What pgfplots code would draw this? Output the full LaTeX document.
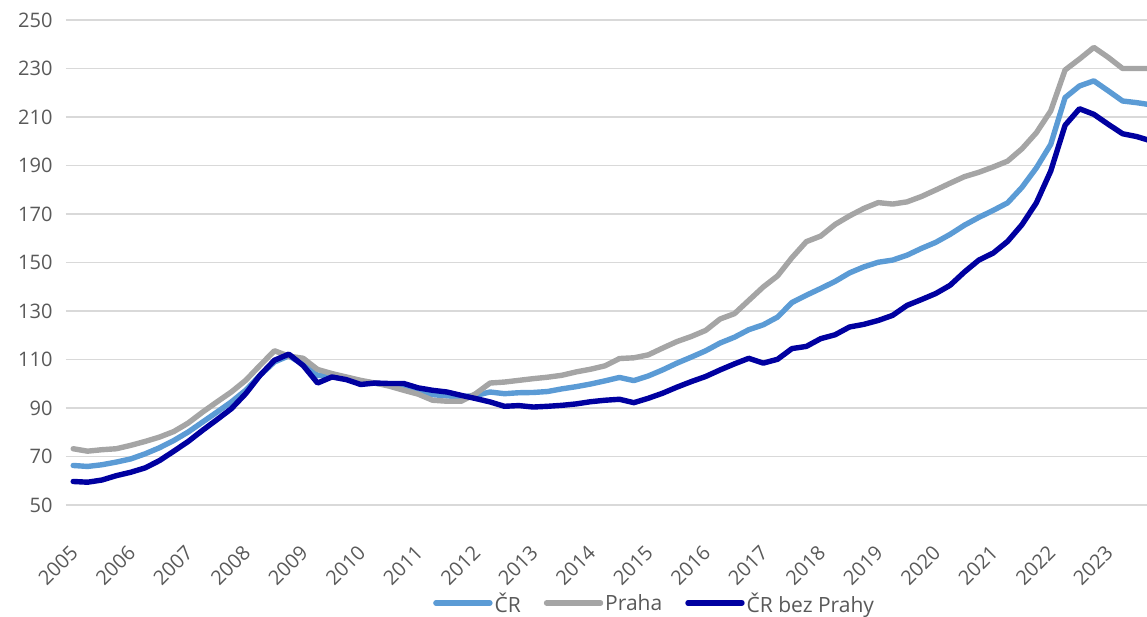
\documentclass[border=0pt]{standalone}
\usepackage{pgfplots}
\pgfplotsset{compat=1.18}
\usepackage{fontspec}
\setmainfont{Open Sans}
\definecolor{cr}{HTML}{5B9BD5}
\definecolor{praha}{HTML}{A5A5A5}
\definecolor{bez}{RGB}{0,0,160}
\definecolor{txt}{HTML}{595959}
\definecolor{gridc}{HTML}{D9D9D9}
\newcommand{\lblfont}{\fontsize{20}{24}\selectfont}
\newcommand{\legfont}{\fontsize{21}{25}\selectfont}
\begin{document}
\begin{tikzpicture}[x=1pt,y=1pt]
\path[use as bounding box] (-66,-111) rectangle (1081,505);
\begin{axis}[
  at={(0,0)}, anchor=south west,
  scale only axis, width=1081pt, height=485pt,
  xmin=-0.5, xmax=74.7, ymin=50, ymax=250,
  axis line style={draw=none}, major tick length=0pt,
  ymajorgrids, grid style={gridc, line width=1.6pt},
  ytick={50,70,...,250},
  xtick={0,4,...,72},
  xticklabels={2005,2006,2007,2008,2009,2010,2011,2012,2013,2014,2015,2016,2017,2018,2019,2020,2021,2022,2023},
  /pgf/number format/assume math mode=true,
  yticklabel style={font=\lblfont, text=txt, anchor=east, xshift=-10pt},
  xticklabel shift=30pt,
  xticklabel style={font=\lblfont, text=txt, rotate=45, anchor=north east, xshift=-6pt},
  legend style={at={(0.3395,-0.202)}, anchor=west, draw=none, fill=none, font=\legfont, text=txt, legend columns=-1,
    /tikz/every even column/.append style={column sep=21pt}, inner sep=0pt},
  legend image code/.code={\draw[#1, line cap=round] (0pt,0pt) -- (54pt,0pt);},
  every axis plot/.append style={line width=5.4pt, line join=round, line cap=round},
]
\addplot[cr] table[x=i,y=v] {
i v
0 66.3
1 65.9
2 66.6
3 67.7
4 69.0
5 71.1
6 73.6
7 76.6
8 80.1
9 84.2
10 88.3
11 92.5
12 97.3
13 103.5
14 109.0
15 111.5
16 108.0
17 103.5
18 103.2
19 102.0
20 100.8
21 100.2
22 99.5
23 98.5
24 97.0
25 95.5
26 95.0
27 94.6
28 95.2
29 96.6
30 95.9
31 96.3
32 96.4
33 96.8
34 97.9
35 98.8
36 99.9
37 101.2
38 102.6
39 101.3
40 103.2
41 105.7
42 108.5
43 111.0
44 113.6
45 116.8
46 119.2
47 122.3
48 124.3
49 127.5
50 133.5
51 136.5
52 139.3
53 142.2
54 145.7
55 148.2
56 150.1
57 151.0
58 153.0
59 155.8
60 158.3
61 161.6
62 165.4
63 168.6
64 171.5
65 174.6
66 181.0
67 189.0
68 198.7
69 218.0
70 222.8
71 224.9
72 220.8
73 216.6
74 215.9
75 215.0
};
\addlegendentry{ČR}
\addplot[praha] table[x=i,y=v] {
i v
0 73.2
1 72.2
2 72.8
3 73.2
4 74.6
5 76.2
6 78.0
7 80.3
8 83.8
9 88.3
10 92.5
11 96.6
12 101.4
13 107.6
14 113.6
15 111.4
16 110.5
17 105.9
18 104.2
19 102.8
20 101.4
21 100.3
22 99.0
23 97.3
24 95.7
25 93.2
26 92.8
27 92.8
28 95.9
29 100.3
30 100.7
31 101.4
32 102.1
33 102.7
34 103.5
35 104.9
36 106.0
37 107.4
38 110.4
39 110.7
40 111.9
41 114.7
42 117.4
43 119.5
44 122.0
45 126.7
46 128.9
47 134.4
48 139.9
49 144.5
50 152.0
51 158.6
52 160.9
53 165.7
54 169.2
55 172.3
56 174.7
57 174.1
58 175.0
59 177.2
60 179.9
61 182.7
62 185.4
63 187.2
64 189.4
65 191.8
66 196.9
67 203.5
68 212.5
69 229.4
70 233.9
71 238.7
72 234.6
73 230.0
74 230.0
75 230.0
};
\addlegendentry{Praha}
\addplot[bez] table[x=i,y=v] {
i v
0 59.7
1 59.4
2 60.3
3 62.1
4 63.5
5 65.3
6 68.3
7 72.2
8 76.2
9 80.8
10 85.2
11 89.7
12 95.9
13 103.5
14 109.7
15 112.2
16 107.5
17 100.3
18 102.8
19 101.7
20 99.7
21 100.3
22 100.1
23 100.1
24 98.3
25 97.3
26 96.6
27 95.2
28 93.9
29 92.5
30 90.7
31 91.0
32 90.4
33 90.7
34 91.1
35 91.7
36 92.6
37 93.2
38 93.6
39 92.2
40 94.0
41 96.1
42 98.6
43 100.9
44 103.0
45 105.7
46 108.2
47 110.5
48 108.5
49 110.1
50 114.5
51 115.4
52 118.6
53 120.2
54 123.4
55 124.5
56 126.1
57 128.2
58 132.3
59 134.7
60 137.2
61 140.6
62 146.1
63 151.0
64 153.9
65 158.7
66 165.6
67 174.6
68 187.7
69 206.6
70 213.4
71 211.1
72 207.0
73 203.1
74 201.9
75 200.1
};
\addlegendentry{ČR bez Prahy}
\end{axis}
\end{tikzpicture}
\end{document}
